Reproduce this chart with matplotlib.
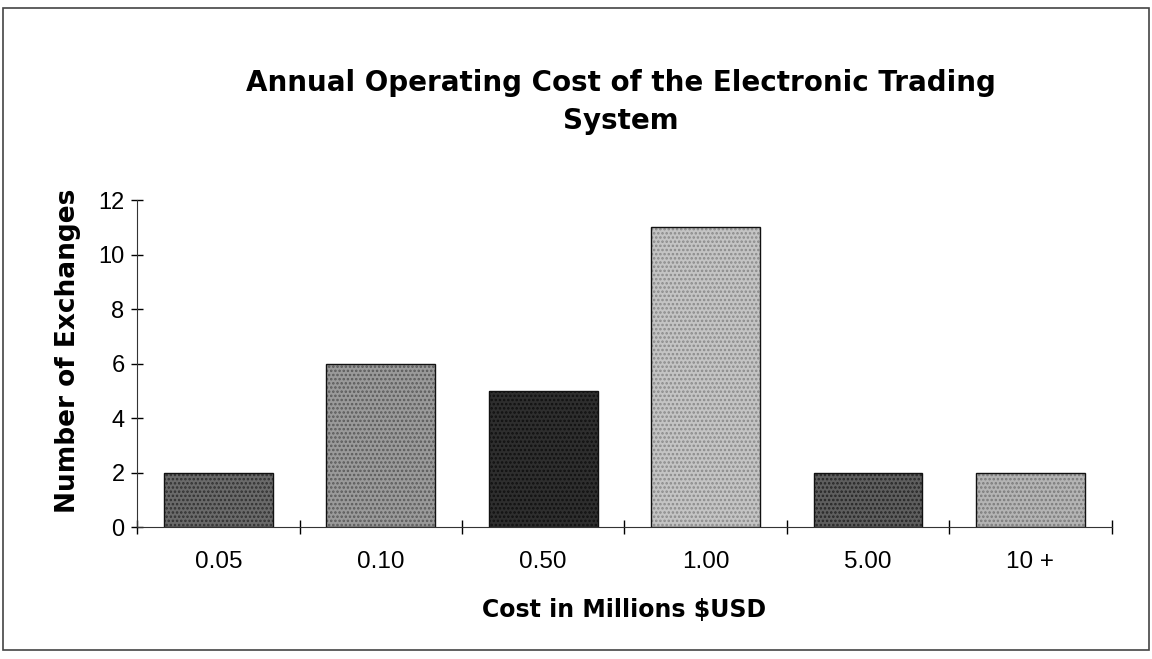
import matplotlib.pyplot as plt
from matplotlib.patches import Rectangle

plt.rcParams['font.family'] = ['Liberation Sans', 'DejaVu Sans']
plt.rcParams['hatch.linewidth'] = 1.2

categories = ['0.05', '0.10', '0.50', '1.00', '5.00', '10 +']
exchanges = [2, 6, 5, 11, 2, 2]
fills = ['#6a6a6a', '#9a9a9a', '#2e2e2e', '#c4c4c4', '#5e5e5e', '#b4b4b4']
dots = ['#303030', '#5a5a5a', '#101010', '#8a8a8a', '#252525', '#7a7a7a']

fig = plt.figure(figsize=(11.52, 6.59), dpi=100)
ax = fig.add_axes([0.119, 0.2, 0.846, 0.4965])

x = range(len(categories))
for i in x:
    ax.bar(i, exchanges[i], width=0.67, color=fills[i], edgecolor=dots[i],
           hatch='....', linewidth=0)
    ax.bar(i, exchanges[i], width=0.67, fill=False, edgecolor='#111111',
           linewidth=1.0)

ax.set_xlim(-0.5, len(categories) - 0.5)
ax.set_ylim(0, 12)
ax.set_yticks(range(0, 13, 2))
ax.tick_params(axis='y', direction='inout', length=8, width=1, labelsize=17, pad=5)
ax.set_xticks([i + 0.5 for i in range(-1, len(categories))], minor=False)
ax.set_xticklabels([''] * (len(categories) + 1))
ax.tick_params(axis='x', direction='inout', length=10, width=1)
ax.set_xticks(list(x), minor=True)
ax.set_xticklabels(categories, minor=True)
ax.tick_params(axis='x', which='minor', length=0, labelsize=17.5, pad=17)

for s in ['top', 'right']:
    ax.spines[s].set_visible(False)
ax.spines['left'].set_color('#333333')
ax.spines['bottom'].set_color('#333333')

ax.set_ylabel('Number of Exchanges', fontsize=19, fontweight='bold',
              family='DejaVu Sans')
ax.yaxis.set_label_coords(-0.058, 0.54)
ax.set_xlabel('Cost in Millions $USD', fontsize=17, fontweight='bold', labelpad=18,
              family='DejaVu Sans')

fig.text(0.539, 0.845, 'Annual Operating Cost of the Electronic Trading\nSystem',
         ha='center', va='center', fontsize=20, fontweight='bold',
         linespacing=1.45, family='DejaVu Sans')

# outer frame
fig.patches.append(Rectangle((0.003, 0.013), 0.994, 0.975, transform=fig.transFigure,
                             fill=False, edgecolor='#444444', linewidth=1.2))

fig.savefig('out.png', dpi=100)
